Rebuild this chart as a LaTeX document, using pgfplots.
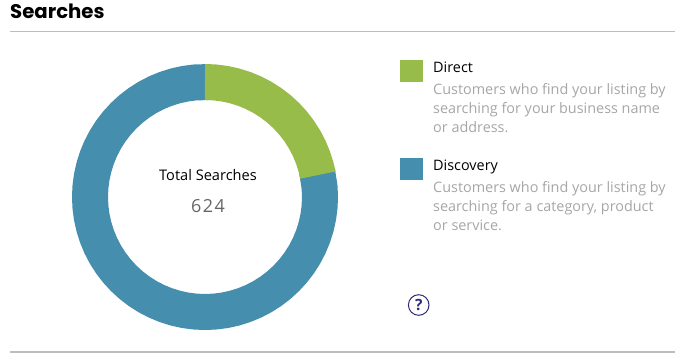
\documentclass[border=0pt]{standalone}
\usepackage{fontspec}
\setmainfont{Open Sans}
\newfontfamily\pop{Poppins}
\usepackage{pgfplots}
\pgfplotsset{compat=1.18}
\usepgfplotslibrary{polar}
\definecolor{cdirect}{HTML}{97BC49}
\definecolor{cdisc}{HTML}{468EAD}
\definecolor{crule}{HTML}{BDBDBD}
\definecolor{cgrey}{HTML}{A6A6A6}
\definecolor{cnum}{HTML}{666666}
\definecolor{chelp}{HTML}{2E2A78}
\begin{document}
\begin{tikzpicture}[x=1pt,y=1pt]
\useasboundingbox (0,0) rectangle (684,360);
\begin{polaraxis}[
  at={(205pt,163pt)}, anchor=center,
  scale only axis, width=266pt, height=266pt,
  xmin=0, xmax=360, ymin=0, ymax=133,
  hide axis, clip=false]
\addplot[no marks, draw=cdisc, line width=36pt, line join=round] coordinates {
 (13,115)(5,115)(0,115)(-5,115)(-10,115)(-15,115)(-20,115)(-25,115)(-30,115)(-35,115)(-40,115)(-45,115)
 (-50,115)(-55,115)(-60,115)(-65,115)(-70,115)(-75,115)(-80,115)(-85,115)(-90,115)(-95,115)(-100,115)
 (-105,115)(-110,115)(-115,115)(-120,115)(-125,115)(-130,115)(-135,115)(-140,115)(-145,115)(-150,115)
 (-155,115)(-160,115)(-165,115)(-170,115)(-175,115)(-180,115)(-185,115)(-190,115)(-195,115)(-200,115)
 (-205,115)(-210,115)(-215,115)(-220,115)(-225,115)(-230,115)(-235,115)(-240,115)(-245,115)(-250,115)
 (-255,115)(-260,115)(-265,115)(-272,115)};
\addplot[no marks, draw=cdirect, line width=36pt, line join=round] coordinates {
 (90,115)(89.5,115)(85,115)(80,115)(75,115)(70,115)(65,115)(60,115)(55,115)(50,115)(45,115)(40,115)(35,115)
 (30,115)(25,115)(20,115)(15,115)(11.5,115)(11,115)};
\end{polaraxis}
\node[anchor=base west,inner sep=0pt,font=\fontsize{19.7}{20}\selectfont\pop\bfseries] at (10,360-18.5) {Searches};
\draw[crule,line width=1pt] (10,360-31.5) -- (675,360-31.5);
\draw[crule,line width=2pt] (10,360-352) -- (675,360-352);
\fill[cdirect] (400,360-60) rectangle (422.5,360-82);
\fill[cdisc] (400,360-158) rectangle (422.5,360-180);
\node[anchor=base west,inner sep=0pt,font=\fontsize{14.4}{14}\selectfont] at (433,360-72) {Direct};
\node[anchor=base west,inner sep=0pt,font=\fontsize{14.4}{14}\selectfont,text=cgrey] at (433,360-94) {Customers who find your listing by};
\node[anchor=base west,inner sep=0pt,font=\fontsize{14.4}{14}\selectfont,text=cgrey] at (433,360-113) {searching for your business name};
\node[anchor=base west,inner sep=0pt,font=\fontsize{14.4}{14}\selectfont,text=cgrey] at (433,360-132) {or address.};
\node[anchor=base west,inner sep=0pt,font=\fontsize{14.4}{14}\selectfont] at (433,360-170) {Discovery};
\node[anchor=base west,inner sep=0pt,font=\fontsize{14.4}{14}\selectfont,text=cgrey] at (433,360-192) {Customers who find your listing by};
\node[anchor=base west,inner sep=0pt,font=\fontsize{14.4}{14}\selectfont,text=cgrey] at (433,360-211) {searching for a category, product};
\node[anchor=base west,inner sep=0pt,font=\fontsize{14.4}{14}\selectfont,text=cgrey] at (433,360-230) {or service.};
\node[anchor=base,inner sep=0pt,font=\fontsize{14.6}{14}\selectfont] at (208,360-180) {Total Searches};
\node[anchor=base,inner sep=0pt,font=\fontsize{18}{18}\selectfont,text=cnum] at (208,360-212) {6\kern1.5pt2\kern1.5pt4};
\draw[chelp,line width=1pt] (418.7,360-305) circle (10.3);
\node[inner sep=0pt,text=chelp,font=\fontsize{15.5}{15}\selectfont\bfseries] at (418.7,360-305) {?};
\end{tikzpicture}
\end{document}
